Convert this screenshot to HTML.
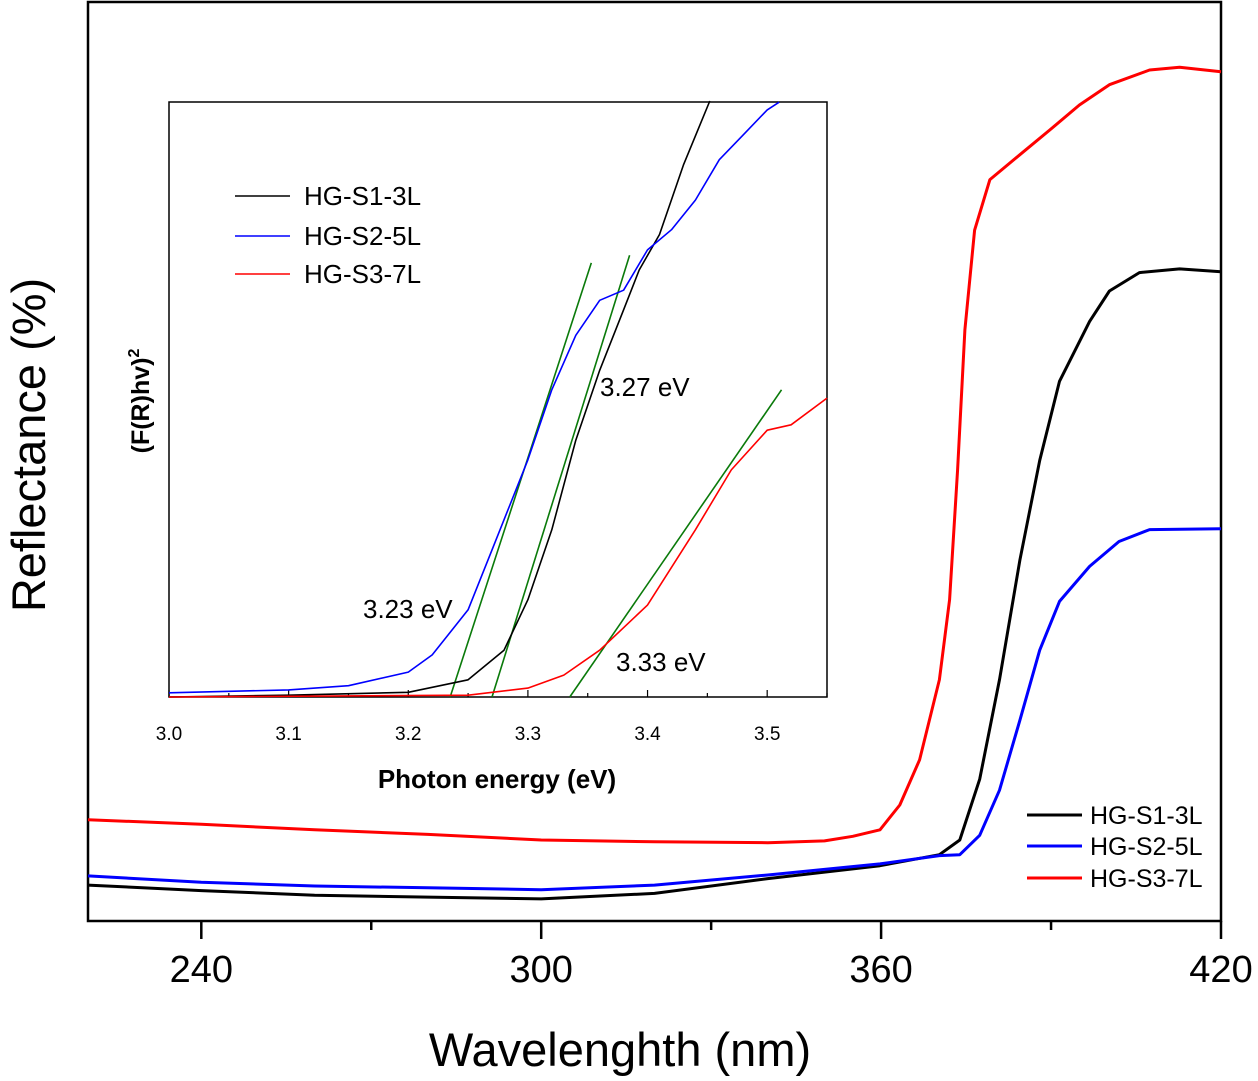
<!DOCTYPE html>
<html><head><meta charset="utf-8"><style>
body{margin:0;background:#fff}
svg{display:block;font-family:"Liberation Sans",Arial,sans-serif}
</style></head><body>
<svg id="c" width="1258" height="1081" viewBox="0 0 1258 1081" xmlns="http://www.w3.org/2000/svg"></svg>
<script>
// Main chart data (wavelength nm, reflectance arbitrary units)
const mainBlackX=[220,240,260,280,300,320,340,359.8,370.3,373.9,377.4,380.9,384.5,388,391.5,396.8,400.3,405.6,412.7,420];
const mainBlackY=[3.9,3.3,2.8,2.6,2.4,3.0,4.6,6.0,7.2,8.8,15.4,26.2,39.2,50.0,58.6,65.1,68.4,70.4,70.8,70.5];
const mainBlueX=[220,240,260,280,300,320,340,359.8,370.3,373.9,377.4,380.9,384.5,388,391.5,396.8,402,407.4,420];
const mainBlueY=[4.9,4.2,3.8,3.6,3.4,3.9,5.0,6.2,7.1,7.2,9.3,14.2,21.8,29.4,34.7,38.5,41.2,42.5,42.6];
const mainRedX=[220,240,260,280,300,320,340,350,355,359.8,363.3,366.8,370.3,372.1,373.5,374.8,376.5,379.2,384.5,389.8,395,400.3,407.4,412.7,420];
const mainRedY=[11.0,10.5,9.9,9.4,8.8,8.6,8.5,8.7,9.2,9.9,12.6,17.5,26.2,34.9,49.0,64.2,75.0,80.5,83.2,85.9,88.6,90.8,92.4,92.7,92.2];
const mainTicks=[240,300,360,420];
const mainMinor=[270,330,390];
// Inset data (photon energy eV, (F(R)hv)^2 arbitrary)
const inBlackX=[3.0,3.1,3.2,3.25,3.28,3.3,3.32,3.34,3.36,3.38,3.393,3.41,3.43,3.452];
const inBlackY=[0,0.3,0.8,2.9,7.9,16.4,28.2,43.3,55.1,65.3,72.0,78.0,89.7,100.5];
const inBlueX=[3.0,3.1,3.15,3.2,3.22,3.25,3.27,3.3,3.32,3.34,3.36,3.38,3.4,3.42,3.44,3.46,3.48,3.5,3.51];
const inBlueY=[0.7,1.2,1.9,4.2,7.1,14.7,24.8,40.0,51.8,61.0,66.9,68.6,75.4,78.8,83.8,90.6,94.8,99.0,100.3];
const inRedX=[3.0,3.25,3.3,3.33,3.36,3.4,3.44,3.47,3.5,3.52,3.55];
const inRedY=[0,0.3,1.5,3.7,7.9,15.5,28.2,38.3,45.0,45.9,50.4];
const fitX0=[3.235,3.27,3.335];
const fitY0=[0,0,0];
const fitX1=[3.353,3.385,3.512];
const fitY1=[73.2,74.5,51.8];
const inTicks=[3.0,3.1,3.2,3.3,3.4,3.5];
const inLabels=["3.0","3.1","3.2","3.3","3.4","3.5"];

const NS="http://www.w3.org/2000/svg";
const svg=document.getElementById('c');
function mk(tag,attrs,parent){const e=document.createElementNS(NS,tag);for(const k in attrs)e.setAttribute(k,attrs[k]);(parent||svg).appendChild(e);return e;}
const MX0=88,MX1=1221,MY0=921,MY1=2;
const mx=v=>MX0+(v-220)/200*(MX1-MX0);
const my=v=>MY0-v*9.21;
const IX0=169,IX1=827,IY0=697,IY1=102;
const ix=v=>IX0+(v-3.0)/0.55*(IX1-IX0);
const iy=v=>IY0-v*5.93;

let el;
el=mk('rect',{x:MX0,y:MY1,width:MX1-MX0,height:MY0-MY1,fill:'none',stroke:'#000','stroke-width':2.5});


mainTicks.forEach((t,i)=>{
  const l=mk('line',{x1:mx(t),x2:mx(t),y1:MY0,y2:MY0+18,stroke:'#000','stroke-width':2.5});
  
  
  const tx=mk('text',{x:mx(t),y:982,'font-size':38,'text-anchor':'middle'});tx.textContent=t;
  
  
});
mainMinor.forEach(t=>{
  const l=mk('line',{x1:mx(t),x2:mx(t),y1:MY0,y2:MY0+9,stroke:'#000','stroke-width':2.5});
  
  
});
function path(xs,ys,fx,fy,color,w,name){
  const d=xs.map((x,i)=>(i?'L':'M')+fx(x).toFixed(1)+','+fy(ys[i]).toFixed(1)).join('');
  const p=mk('path',{d:d,fill:'none',stroke:color,'stroke-width':w,'stroke-linejoin':'round'});
  
  
}
path(mainBlackX,mainBlackY,mx,my,'#000',3,'series-hg-s1-3l');
path(mainBlueX,mainBlueY,mx,my,'#0000ff',3,'series-hg-s2-5l');
path(mainRedX,mainRedY,mx,my,'#ff0000',3,'series-hg-s3-7l');

el=mk('text',{x:0,y:0,'font-size':47,'text-anchor':'middle',transform:'translate(45,445) rotate(-90)'});el.textContent='Reflectance (%)';


el=mk('text',{x:620,y:1066,'font-size':47,'text-anchor':'middle'});el.textContent='Wavelenghth (nm)';



[['HG-S1-3L','#000',815],['HG-S2-5L','#0000ff',846],['HG-S3-7L','#ff0000',878]].forEach(([n,c,y])=>{
  const l=mk('line',{x1:1027,x2:1082,y1:y,y2:y,stroke:c,'stroke-width':3});
  
  
  const t=mk('text',{x:1090,y:y+9,'font-size':25});t.textContent=n;
  
  
});

el=mk('rect',{x:IX0,y:IY1,width:IX1-IX0,height:IY0-IY1,fill:'#fff',stroke:'#000','stroke-width':1.5});


inTicks.forEach((t,i)=>{
  const l=mk('line',{x1:ix(t),x2:ix(t),y1:IY0,y2:IY0-7,stroke:'#000','stroke-width':1.2});
  
  
  const l2=mk('line',{x1:ix(t+0.05),x2:ix(t+0.05),y1:IY0,y2:IY0-4,stroke:'#000','stroke-width':1.2});
  
  
  const tx=mk('text',{x:ix(t),y:740,'font-size':19,'text-anchor':'middle'});tx.textContent=inLabels[i];
  
  
});
fitX0.forEach((x,i)=>{
  const l=mk('line',{x1:ix(x),y1:iy(fitY0[i]),x2:ix(fitX1[i]),y2:iy(fitY1[i]),stroke:'#0a7a0a','stroke-width':1.6});
  
  
});
path(inBlackX,inBlackY,ix,iy,'#000',1.6,'inset-series-hg-s1-3l');
path(inBlueX,inBlueY,ix,iy,'#0000ff',1.6,'inset-series-hg-s2-5l');
path(inRedX,inRedY,ix,iy,'#ff0000',1.6,'inset-series-hg-s3-7l');
[['3.23 eV',363,618],['3.27 eV',600,396],['3.33 eV',616,671]].forEach(([s,x,y])=>{
  const t=mk('text',{x:x,y:y,'font-size':26});t.textContent=s;
  
  
});
[['HG-S1-3L','#000',196],['HG-S2-5L','#0000ff',236],['HG-S3-7L','#ff0000',274]].forEach(([n,c,y])=>{
  const l=mk('line',{x1:235,x2:290,y1:y,y2:y,stroke:c,'stroke-width':1.6});
  
  
  const t=mk('text',{x:304,y:y+9,'font-size':26});t.textContent=n;
  
  
});
el=mk('text',{x:497,y:788,'font-size':26,'font-weight':'bold','text-anchor':'middle'});el.textContent='Photon energy (eV)';


el=mk('text',{x:0,y:0,'font-size':25,'font-weight':'bold','text-anchor':'middle',transform:'translate(149,401) rotate(-90)'});
el.innerHTML='(F(R)hv)<tspan dy="-10" font-size="16">2</tspan>';


</script>
</body></html>
